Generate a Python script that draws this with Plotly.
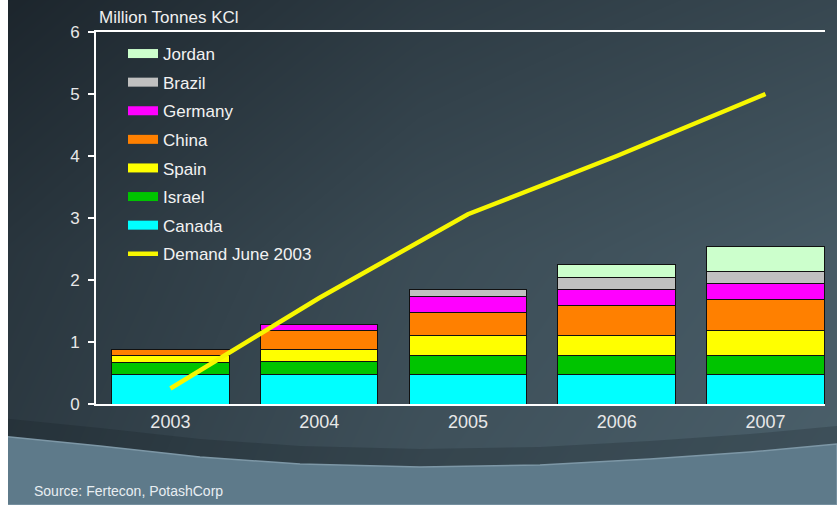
import plotly.graph_objects as go

years = ["2003", "2004", "2005", "2006", "2007"]
canada = [0.48, 0.48, 0.48, 0.48, 0.48]
israel = [0.19, 0.20, 0.31, 0.31, 0.31]
spain = [0.11, 0.20, 0.31, 0.31, 0.40]
china = [0.10, 0.31, 0.38, 0.49, 0.50]
germany = [0.00, 0.10, 0.26, 0.26, 0.25]
brazil = [0.00, 0.00, 0.10, 0.19, 0.19]
jordan = [0.00, 0.00, 0.00, 0.21, 0.41]
demand = [0.25, 1.71, 3.06, 4.00, 5.00]

series = [
    ("Canada", canada, "#00ffff"),
    ("Israel", israel, "#00c400"),
    ("Spain", spain, "#ffff00"),
    ("China", china, "#ff8000"),
    ("Germany", germany, "#ff00ff"),
    ("Brazil", brazil, "#c0c0c0"),
    ("Jordan", jordan, "#ccffcc"),
]

W, H = 837, 505
FONT = "Arial, Liberation Sans, sans-serif"

fig = go.Figure()

# background gradient (decoration)
fig.add_trace(go.Heatmap(
    x=[0, 0.5, 1], y=[0, 0.5, 1],
    z=[[0.35, 0.72, 0.95],
       [0.25, 0.62, 0.85],
       [0.0, 0.35, 0.55]],
    colorscale=[[0, "#1c252c"], [1, "#4b606b"]],
    zsmooth="best", showscale=False, hoverinfo="skip",
    xaxis="x", yaxis="y",
))

for name, vals, col in series:
    fig.add_trace(go.Bar(
        x=years, y=vals, name=name, marker=dict(color=col, line=dict(color="#111", width=1)),
        showlegend=False, xaxis="x2", yaxis="y2",
    ))

# legend entries
for name, vals, col in reversed(series):
    fig.add_trace(go.Scatter(
        x=[None], y=[None], mode="lines", name=name, legendgroup=name,
        line=dict(color=col, width=9), xaxis="x2", yaxis="y2",
    ))

fig.add_trace(go.Scatter(
    x=years, y=demand, mode="lines", name="Demand June 2003", legendgroup="demand",
    line=dict(color="#f7f700", width=4.5), xaxis="x2", yaxis="y2",
))

def py(p):
    return 1 - p / H

wave = [(0, 436), (100, 446), (200, 457), (300, 464), (420, 467), (540, 465),
        (650, 459), (750, 452), (837, 444)]
path = "M " + " L ".join(f"{x / W},{py(y)}" for x, y in wave) + f" L 1,0 L 0,0 Z"
shadow = "M " + " L ".join(f"{x / W},{py(y - 18)}" for x, y in wave) + " L " + \
    " L ".join(f"{x / W},{py(y)}" for x, y in reversed(wave)) + " Z"

fig.update_layout(
    width=W, height=H,
    margin=dict(l=0, r=0, t=0, b=0),
    paper_bgcolor="#2f3d45",
    plot_bgcolor="rgba(0,0,0,0)",
    barmode="stack",
    bargap=0.21,
    font=dict(family=FONT, color="#eeeeee"),
    xaxis=dict(domain=[0, 1], range=[0, 1], visible=False, fixedrange=True),
    yaxis=dict(domain=[0, 1], range=[0, 1], visible=False, fixedrange=True),
    xaxis2=dict(domain=[96 / W, 825 / W], range=[-0.5, 4.4], anchor="y2",
                showline=True, mirror=True, linecolor="white", linewidth=2,
                ticks="", showgrid=False, tickfont=dict(size=18, color="#e8e8e8"),
                automargin=False),
    yaxis2=dict(domain=[py(404), py(32)], range=[0, 6], anchor="x2",
                showline=True, linecolor="white", linewidth=2, ticks="outside",
                ticklen=6, tickcolor="white", tickwidth=1.5, showgrid=False, zeroline=False,
                dtick=1, tickfont=dict(size=17, color="#e8e8e8"), automargin=False,
                ticklabelstandoff=5),
    legend=dict(x=123 / W, y=py(36), xanchor="left", yanchor="top",
                bgcolor="rgba(0,0,0,0)", font=dict(size=17, color="#f2f2f2"),
                traceorder="grouped", tracegroupgap=3.5, itemwidth=30),
    shapes=[
        dict(type="path", path=shadow, xref="paper", yref="paper",
             fillcolor="rgba(20,28,34,0.22)", line=dict(width=0), layer="above"),
        dict(type="path", path=path, xref="paper", yref="paper",
             fillcolor="#5e7a8a", line=dict(color="#7d97a6", width=1.5), layer="above"),
        dict(type="rect", x0=0, x1=8 / W, y0=0, y1=1, xref="paper", yref="paper",
             fillcolor="white", line=dict(width=0), layer="above"),
    ],
    annotations=[
        dict(text="Million Tonnes KCl", x=97 / W, y=py(17), xref="paper", yref="paper",
             xanchor="left", yanchor="middle", showarrow=False,
             font=dict(size=17, color="#f0f0f0")),
        dict(text="Source: Fertecon, PotashCorp", x=32 / W, y=py(491), xref="paper", yref="paper",
             xanchor="left", yanchor="middle", showarrow=False,
             font=dict(size=14, color="#e8eef2")),
    ],
)

fig.write_html("out.html", config={"displayModeBar": False},
               post_script="document.body.style.margin='0px';")
